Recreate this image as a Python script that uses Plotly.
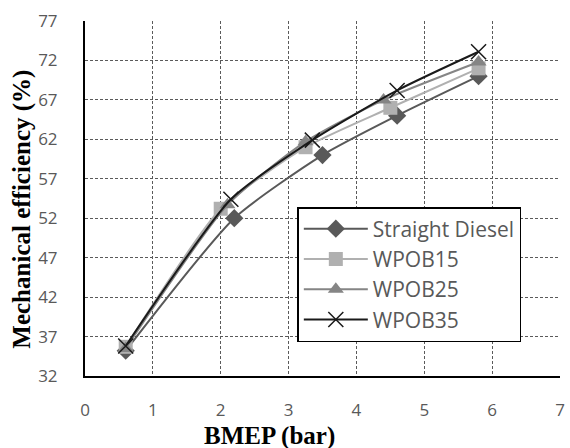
import plotly.graph_objects as go

series_names = ["Straight Diesel", "WPOB15", "WPOB25", "WPOB35"]
bmep = {
    "Straight Diesel": [0.6, 2.2, 3.5, 4.6, 5.8],
    "WPOB15": [0.6, 2.0, 3.25, 4.5, 5.8],
    "WPOB25": [0.6, 2.1, 3.25, 4.4, 5.8],
    "WPOB35": [0.6, 2.15, 3.35, 4.6, 5.8],
}
efficiency = {
    "Straight Diesel": [35.2, 52.0, 60.0, 65.0, 70.0],
    "WPOB15": [35.7, 53.2, 61.0, 66.0, 71.0],
    "WPOB25": [35.5, 53.7, 61.7, 67.0, 71.8],
    "WPOB35": [35.8, 54.4, 61.9, 68.2, 73.1],
}
x_ticks = [0, 1, 2, 3, 4, 5, 6, 7]
y_ticks = [32, 37, 42, 47, 52, 57, 62, 67, 72, 77]

colors = {"Straight Diesel": "#595959", "WPOB15": "#b0b0b0", "WPOB25": "#858585", "WPOB35": "#1a1a1a"}
symbols = {"Straight Diesel": "diamond", "WPOB15": "square", "WPOB25": "triangle-up", "WPOB35": "x-thin"}
sizes = {"Straight Diesel": 14, "WPOB15": 14, "WPOB25": 14, "WPOB35": 15}

fig = go.Figure()
for name in series_names:
    c = colors[name]
    marker = dict(symbol=symbols[name], size=sizes[name], color=c)
    if name == "WPOB35":
        marker["line"] = dict(color=c, width=1.5)
    fig.add_trace(go.Scatter(
        x=bmep[name], y=efficiency[name], name=name, mode="lines+markers",
        line=dict(color=c, width=2, shape="spline", smoothing=0.6),
        marker=marker,
    ))

tick_font = dict(family="Open Sans, sans-serif", size=17, color="#595959")
grid = dict(showgrid=True, gridcolor="#5a5a5a", griddash="3px,2px", gridwidth=1)
fig.update_layout(
    width=570, height=448,
    margin=dict(l=85, r=5, t=21, b=72),
    plot_bgcolor="white", paper_bgcolor="white",
    showlegend=True,
    legend=dict(
        x=0.447, y=0.476, xanchor="left", yanchor="top",
        bgcolor="white", bordercolor="black", borderwidth=1.5,
        font=dict(family="Open Sans, sans-serif", size=21, color="#595959"),
        itemwidth=64,
    ),
    xaxis=dict(
        range=[0, 7], tickvals=x_ticks, ticks="", tickfont=tick_font,
        ticklabelstandoff=18, ticklabeloverflow="allow",
        showline=True, linecolor="black", linewidth=2, mirror=False,
        zeroline=False, **grid,
    ),
    yaxis=dict(
        range=[32, 77], tickvals=y_ticks, ticks="", tickfont=tick_font,
        ticklabelstandoff=22, ticklabeloverflow="allow",
        showline=True, linecolor="black", linewidth=2, mirror=False,
        zeroline=False, **grid,
    ),
)

pw, ph = 570 - 85 - 5, 448 - 21 - 72
def px_to_paper(px, py):
    return (px - 85) / pw, (448 - 72 - py) / ph

ax, ay = px_to_paper(271, 436)
fig.add_annotation(text="<b>BMEP (bar)</b>", x=ax, y=ay, xref="paper", yref="paper",
                   showarrow=False, xanchor="center", yanchor="middle",
                   font=dict(family="Liberation Serif, serif", size=25, color="black"))
tx, ty = px_to_paper(21, 209)
fig.add_annotation(text="<b>Mechanical efficiency (%)</b>", x=tx, y=ty, xref="paper", yref="paper",
                   showarrow=False, textangle=-90, xanchor="center", yanchor="middle",
                   font=dict(family="Liberation Serif, serif", size=25, color="black"))

fig.write_html("out.html")
